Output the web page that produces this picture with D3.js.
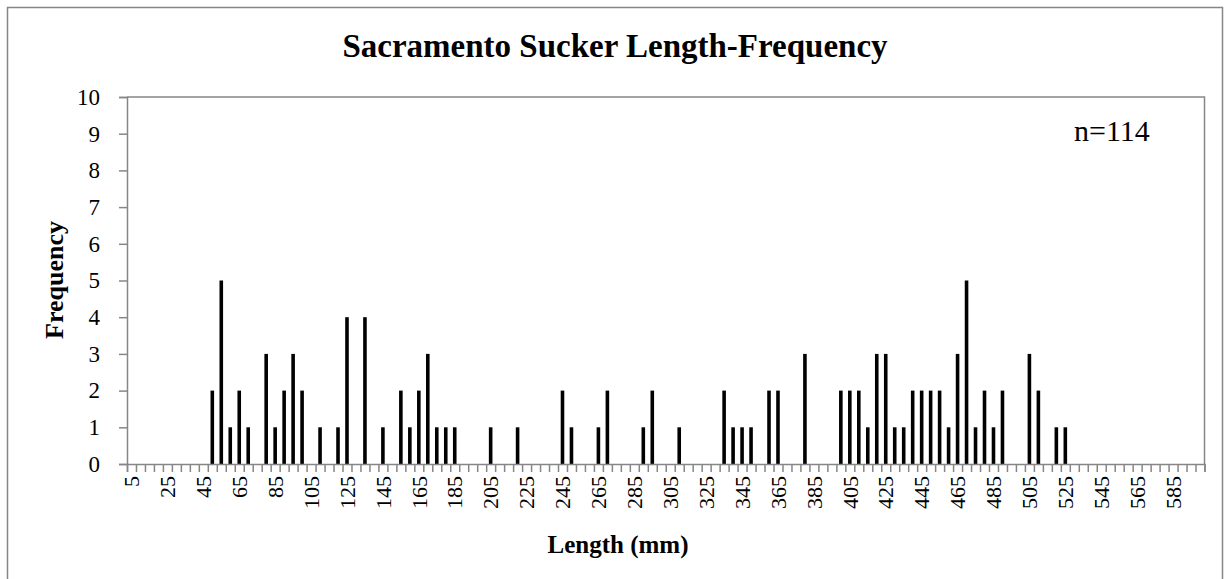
<!DOCTYPE html>
<html>
<head>
<meta charset="utf-8">
<script src="https://cdn.jsdelivr.net/npm/d3@7"></script>
<style>
  body { margin: 0; background: #fff; }
  svg text { font-family: "Liberation Serif", "Times New Roman", serif !important; fill: #000; }
</style>
</head>
<body>
<div id="chart"></div>
<script>
const svgWidth = 1230;
const svgHeight = 579;

// plot area inside the chart
const margin = { top: 97, right: 25, bottom: 115, left: 127 };
const width = 1204.5 - margin.left;
const height = 464 - margin.top;

// 5 mm length bins, 5..600
const lengths = d3.range(5, 601, 5);
const labelLengths = d3.range(5, 586, 20);
const yTicks = d3.range(0, 11, 1);

// fish counted per bin (only bins with fish)
const binLengths = [50, 55, 60, 65, 70, 80, 85, 90, 95, 100, 110, 120, 125, 135, 145,
  155, 160, 165, 170, 175, 180, 185, 205, 220, 245, 250, 265, 270, 290, 295, 310,
  335, 340, 345, 350, 360, 365, 380,
  400, 405, 410, 415, 420, 425, 430, 435, 440, 445, 450, 455, 460, 465, 470, 475,
  480, 485, 490, 505, 510, 520, 525];
const binCounts = [2, 5, 1, 2, 1, 3, 1, 2, 3, 2, 1, 1, 4, 4, 1,
  2, 1, 2, 3, 1, 1, 1, 1, 1, 2, 1, 1, 2, 1, 2, 1,
  2, 1, 1, 1, 2, 2, 3,
  2, 2, 2, 1, 3, 3, 1, 1, 2, 2, 2, 2, 1, 3, 5, 1,
  2, 1, 2, 3, 2, 1, 1];

const sampleSize = "n=114";
const axisGrey = "#868686";
const serif = "'Liberation Serif', 'Times New Roman', serif";

const svg = d3.select("#chart")
  .append("svg")
  .attr("width", svgWidth)
  .attr("height", svgHeight);

// chart border
svg.append("rect")
  .attr("x", 7.5)
  .attr("y", 7.5)
  .attr("width", 1215)
  .attr("height", 600)
  .attr("fill", "none")
  .attr("stroke", axisGrey)
  .attr("stroke-width", 1.5);

const chartGroup = svg.append("g")
  .attr("transform", `translate(${margin.left}, ${margin.top})`);

// scales
const xBand = d3.scaleBand()
  .domain(lengths)
  .range([0, width])
  .paddingInner(0.6)
  .paddingOuter(0.3);

const xEdge = d3.scaleLinear()
  .domain([0, lengths.length])
  .range([0, width]);

const yLinearScale = d3.scaleLinear()
  .domain([0, 10])
  .range([height, 0]);

// plot area outline (top and right)
chartGroup.append("path")
  .attr("d", `M0,0H${width}V${height}`)
  .attr("fill", "none")
  .attr("stroke", axisGrey)
  .attr("stroke-width", 1.5);

// bars
const data = binLengths.map((d, i) => ({ len: d, count: binCounts[i] }));
chartGroup.selectAll("rect.bar")
  .data(data)
  .enter()
  .append("rect")
  .attr("class", "bar")
  .attr("x", d => xBand(d.len))
  .attr("width", xBand.bandwidth())
  .attr("y", d => yLinearScale(d.count))
  .attr("height", d => height - yLinearScale(d.count))
  .attr("fill", "#000");

// y axis
const leftAxis = d3.axisLeft(yLinearScale)
  .tickValues(yTicks)
  .tickSize(8)
  .tickPadding(19);

const yAxis = chartGroup.append("g").call(leftAxis)
  .attr("font-family", serif);
yAxis.select(".domain").attr("stroke", axisGrey).attr("stroke-width", 1.5);
yAxis.selectAll(".tick line").attr("stroke", axisGrey).attr("stroke-width", 1.5);
yAxis.selectAll(".tick text")
  .style("font-family", serif)
  .attr("font-size", 23)
  .attr("fill", "#000");

// x axis tick marks sit between categories
const edgeAxis = d3.axisBottom(xEdge)
  .tickValues(d3.range(0, lengths.length + 1))
  .tickSize(8)
  .tickFormat("");

const xTickGroup = chartGroup.append("g")
  .attr("transform", `translate(0, ${height})`)
  .call(edgeAxis);
xTickGroup.select(".domain").attr("stroke", axisGrey).attr("stroke-width", 1.5);
xTickGroup.selectAll(".tick line").attr("stroke", axisGrey).attr("stroke-width", 1.5);

// x labels, every 4th bin, rotated
const bottomAxis = d3.axisBottom(xBand)
  .tickValues(labelLengths)
  .tickSize(0)
  .tickPadding(0);

const xLabelGroup = chartGroup.append("g")
  .attr("transform", `translate(0, ${height})`)
  .call(bottomAxis)
  .attr("font-family", serif);
xLabelGroup.select(".domain").remove();
xLabelGroup.selectAll(".tick text")
  .style("font-family", serif)
  .attr("font-size", 22)
  .attr("fill", "#000")
  .attr("text-anchor", "end")
  .attr("transform", "translate(0, 12) rotate(-90)")
  .attr("x", 0)
  .attr("y", 0)
  .attr("dy", "0.35em");

// title
svg.append("text")
  .attr("x", 615)
  .attr("y", 57)
  .attr("text-anchor", "middle")
  .style("font-family", serif)
  .attr("font-size", 33)
  .attr("font-weight", "bold")
  .text("Sacramento Sucker Length-Frequency");

// axis titles
svg.append("text")
  .attr("x", 618)
  .attr("y", 553)
  .attr("text-anchor", "middle")
  .style("font-family", serif)
  .attr("font-size", 25)
  .attr("font-weight", "bold")
  .text("Length (mm)");

svg.append("text")
  .attr("transform", "translate(63, 280) rotate(-90)")
  .attr("text-anchor", "middle")
  .style("font-family", serif)
  .attr("font-size", 26)
  .attr("font-weight", "bold")
  .text("Frequency");

// sample size note
svg.append("text")
  .attr("x", 1074)
  .attr("y", 141)
  .style("font-family", serif)
  .attr("font-size", 30)
  .text(sampleSize);
</script>
</body>
</html>
